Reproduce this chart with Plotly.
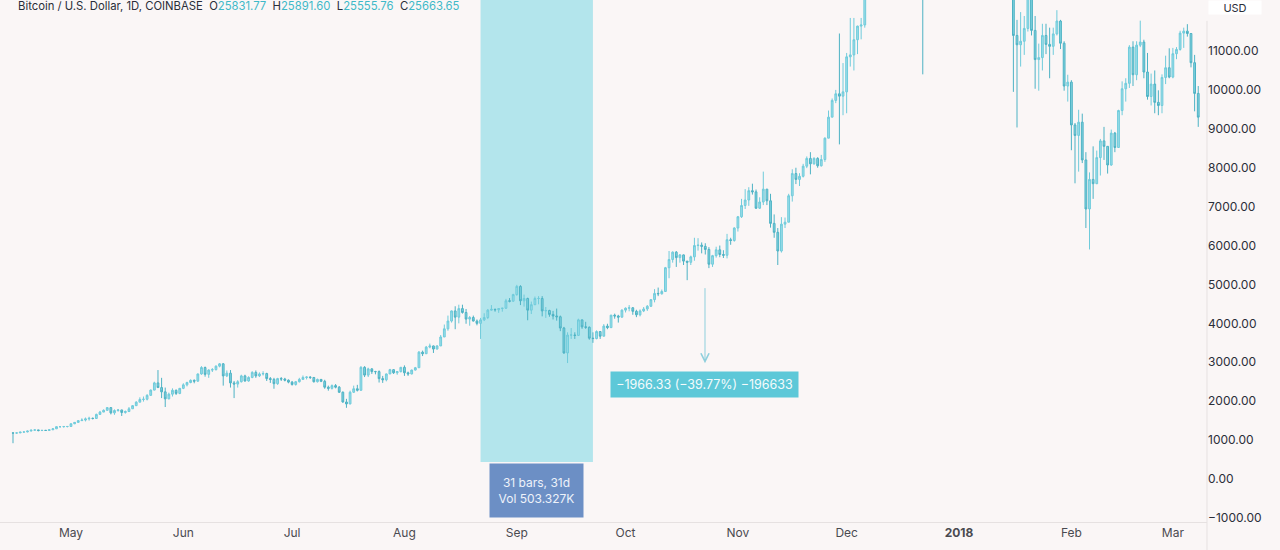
import pandas as pd
import plotly.graph_objects as go

# ---------------- data ----------------
START_DATE = "2017-04-15"
FIRST_OPEN = 1185

close_apr = [1180, 1185, 1205, 1210, 1232, 1255, 1262, 1245, 1250, 1248, 1265, 1290, 1345, 1345, 1350, 1350]
high_apr = [1195, 1195, 1210, 1215, 1240, 1265, 1270, 1265, 1260, 1260, 1270, 1300, 1350, 1360, 1355, 1355]
low_apr = [920, 1165, 1180, 1195, 1200, 1230, 1245, 1225, 1235, 1235, 1245, 1260, 1290, 1320, 1320, 1325]

close_may = [1420, 1455, 1500, 1515, 1545, 1560, 1555, 1660, 1720, 1765, 1835, 1700, 1760, 1775, 1710, 1735,
             1805, 1885, 1975, 2045, 2050, 2150, 2285, 2470, 2350, 2240, 2060, 2180, 2280, 2200, 2330]
high_may = [1430, 1460, 1510, 1560, 1580, 1600, 1580, 1680, 1750, 1790, 1850, 1840, 1790, 1800, 1780, 1760,
            1850, 1900, 2000, 2100, 2120, 2180, 2300, 2500, 2800, 2600, 2350, 2220, 2330, 2300, 2340]
low_may = [1345, 1410, 1450, 1490, 1480, 1500, 1530, 1550, 1650, 1720, 1760, 1660, 1650, 1730, 1620, 1680,
           1720, 1800, 1880, 1980, 1990, 2020, 2140, 2280, 2340, 2080, 1850, 2050, 2120, 2160, 2180]

close_jun = [2420, 2480, 2535, 2515, 2700, 2865, 2690, 2800, 2810, 2900, 2960, 2650, 2720, 2470, 2440,
             2500, 2650, 2520, 2610, 2740, 2650, 2700, 2710, 2580, 2560, 2450, 2580, 2570, 2540, 2490]
high_jun = [2460, 2500, 2560, 2560, 2710, 2900, 2890, 2820, 2850, 2920, 2980, 2980, 2790, 2800, 2520,
            2540, 2680, 2680, 2640, 2770, 2790, 2740, 2770, 2730, 2620, 2600, 2600, 2620, 2600, 2560]
low_jun = [2310, 2380, 2460, 2460, 2500, 2680, 2630, 2600, 2750, 2790, 2870, 2400, 2620, 2350, 2080,
           2350, 2480, 2500, 2500, 2590, 2600, 2620, 2660, 2520, 2470, 2320, 2420, 2520, 2510, 2460]

close_jul = [2430, 2500, 2560, 2610, 2620, 2610, 2500, 2560, 2510, 2360, 2330, 2400, 2360, 2230, 1980, 1930,
             2230, 2320, 2280, 2870, 2670, 2830, 2760, 2760, 2580, 2550, 2700, 2810, 2730, 2760, 2870]
high_jul = [2520, 2520, 2600, 2660, 2640, 2640, 2620, 2580, 2570, 2550, 2400, 2430, 2440, 2390, 2250, 2060,
            2270, 2400, 2420, 2900, 2900, 2860, 2850, 2780, 2790, 2650, 2710, 2830, 2820, 2770, 2880]
low_jul = [2400, 2400, 2480, 2560, 2560, 2570, 2480, 2480, 2490, 2320, 2270, 2300, 2330, 2210, 1960, 1830,
           1920, 2210, 2250, 2270, 2620, 2620, 2700, 2690, 2480, 2470, 2510, 2700, 2700, 2680, 2740]

close_aug = [2730, 2700, 2800, 2860, 3260, 3220, 3390, 3420, 3340, 3420, 3650, 3860, 4060, 4320, 4160, 4380,
             4280, 4110, 4150, 4060, 4000, 4090, 4150, 4340, 4360, 4350, 4380, 4390, 4580, 4570, 4740]
high_aug = [2920, 2760, 2810, 2880, 3290, 3300, 3420, 3480, 3430, 3440, 3700, 3970, 4200, 4330, 4440, 4480,
            4480, 4370, 4190, 4200, 4100, 4140, 4260, 4370, 4470, 4380, 4390, 4400, 4630, 4650, 4760]
low_aug = [2650, 2650, 2690, 2790, 2860, 3160, 3220, 3360, 3240, 3330, 3420, 3650, 3810, 4020, 3850, 4000,
           4250, 3990, 3940, 4050, 3950, 3600, 4060, 4110, 4330, 4300, 4270, 4300, 4370, 4540, 4560]

close_sep = [4950, 4580, 4640, 4340, 4480, 4640, 4640, 4320, 4330, 4230, 4190, 4170, 3880, 3240, 3700,
             3700, 3690, 4090, 3910, 3900, 3620, 3610, 3790, 3670, 3930, 3890, 4210, 4190, 4160, 4340]
high_sep = [4990, 4980, 4740, 4660, 4560, 4690, 4700, 4700, 4420, 4350, 4320, 4380, 4200, 3910, 3770,
            3880, 3770, 4120, 4090, 4040, 3920, 3770, 3820, 3790, 3980, 3990, 4220, 4250, 4220, 4360]
low_sep = [4710, 4470, 4430, 4080, 4240, 4470, 4490, 4180, 4140, 4170, 4100, 4070, 3800, 3220, 2980,
           3600, 3600, 3690, 3860, 3860, 3580, 3500, 3590, 3600, 3680, 3850, 3890, 4120, 4020, 4150]

close_oct = [4390, 4400, 4310, 4220, 4320, 4370, 4440, 4610, 4770, 4760, 4820, 5430, 5640, 5830, 5690, 5760,
             5600, 5570, 5710, 6000, 6010, 5980, 5900, 5520, 5740, 5890, 5770, 5750, 6150, 6130, 6450]
high_oct = [4410, 4470, 4420, 4350, 4360, 4420, 4470, 4620, 4880, 4920, 4870, 5450, 5860, 5850, 5860, 5780,
            5770, 5600, 5740, 6200, 6190, 6080, 6060, 5960, 5760, 5970, 6000, 5880, 6300, 6200, 6470]
low_oct = [4280, 4310, 4220, 4160, 4180, 4290, 4320, 4420, 4540, 4700, 4740, 4810, 5160, 5560, 5450, 5560,
           5500, 5110, 5500, 5610, 5870, 5800, 5770, 5420, 5450, 5690, 5700, 5680, 5670, 6020, 6100]

close_nov = [6740, 7030, 7170, 7410, 7380, 6960, 7120, 7450, 7150, 6570, 6340, 5860, 6550, 6600, 7280,
             7850, 7700, 7780, 8040, 8240, 8100, 8240, 8050, 8210, 8760, 9300, 9730, 9900, 9840, 9950]
high_nov = [6760, 7200, 7450, 7500, 7590, 7440, 7240, 7900, 7450, 7330, 6800, 6450, 6730, 6720, 7330,
            7960, 8000, 7860, 8100, 8290, 8400, 8270, 8270, 8330, 8780, 9470, 9780, 10000, 11450, 10690]
low_nov = [6360, 6710, 6940, 7020, 7310, 6940, 6940, 7040, 7040, 6460, 6200, 5500, 5820, 6450, 6600,
           7130, 7580, 7530, 7750, 7990, 7830, 8080, 8000, 8030, 8150, 8760, 9350, 9660, 8600, 9350]

close_dec = [10850, 10900, 11290, 11640, 11670, 13750, 16850, 16000, 14900, 15060, 16730, 17290, 16480, 16400,
             17640, 19500, 19140, 18990, 17600, 16460, 15600, 13900, 14640, 13820, 13900, 15800, 15400, 14400,
             14660, 12850, 14150]
high_dec = [10950, 11850, 11850, 11650, 11850, 13850, 16900, 17300, 16300, 15800, 17400, 17560, 17350, 16950,
            18000, 19700, 19890, 19290, 19000, 17900, 17400, 15800, 15700, 14870, 14450, 16000, 16500, 16000,
            15120, 14690, 14220]
low_dec = [9400, 10600, 10500, 10920, 11300, 11600, 13700, 14100, 12500, 13010, 14700, 15000, 15200, 15900,
           16300, 17150, 18000, 17850, 17000, 15560, 14900, 10400, 13300, 12500, 12850, 13820, 14800, 13900,
           14000, 12500, 12650]

close_jan = [13440, 14750, 15150, 15170, 17150, 17180, 16150, 14900, 14400, 14900, 13250, 13800, 14190, 13600,
             13580, 11400, 11160, 11250, 11580, 12780, 11530, 10780, 10830, 11400, 11170, 11120, 11440, 11770,
             11200, 10100, 10200]
high_jan = [14220, 15300, 15500, 15750, 17170, 17250, 17180, 16300, 15400, 14950, 14950, 14100, 14480, 14350,
            14400, 13620, 11800, 12000, 11900, 12860, 12800, 11900, 11190, 11700, 11700, 11600, 11600, 12050,
            11800, 11250, 10390]
low_jan = [12800, 12900, 14600, 14600, 15100, 16200, 15800, 14560, 14000, 13200, 12750, 12700, 13550, 13350,
           13300, 9950, 9035, 10600, 10900, 11500, 11400, 10030, 9980, 10500, 10920, 10300, 10900, 11400,
           11050, 9980, 9700]

close_feb = [9100, 8830, 9170, 8200, 6940, 7700, 7590, 8260, 8690, 8550, 8070, 8890, 8520, 9470,
             10030, 10170, 11100, 10390, 11150, 11230, 10460, 9830, 10150, 9680, 9600, 10320, 10570, 10330]
high_feb = [10250, 9150, 9490, 9390, 8400, 7880, 8550, 8440, 8740, 9050, 8550, 8980, 8920, 9490,
            10220, 10300, 11150, 11250, 11250, 11780, 11290, 10950, 10420, 10500, 9990, 10400, 10880, 11070]
low_feb = [8450, 7600, 7900, 8120, 6450, 5900, 7200, 7580, 7800, 8200, 7850, 8050, 8400, 8510,
           9350, 9700, 10050, 10100, 10250, 11100, 10300, 9750, 9600, 9400, 9350, 9400, 10150, 10300]

close_mar = [10930, 11040, 11460, 11510, 11450, 10700, 9910, 9300]
high_mar = [11080, 11100, 11520, 11600, 11690, 11460, 10900, 10100]
low_mar = [10300, 10790, 11010, 11080, 11370, 10580, 9450, 9050]

# axis / annotation content
MONTH_TICKS = ["2017-05-01", "2017-06-01", "2017-07-01", "2017-08-01", "2017-09-01", "2017-10-01",
               "2017-11-01", "2017-12-01", "2018-01-01", "2018-02-01", "2018-03-01"]
MONTH_LABELS = ["May", "Jun", "Jul", "Aug", "Sep", "Oct", "Nov", "Dec", "<b>2018</b>", "Feb", "Mar"]
PRICE_TICKS = [-1000, 0, 1000, 2000, 3000, 4000, 5000, 6000, 7000, 8000, 9000, 10000, 11000]

HEADER_TITLE = "Bitcoin / U.S. Dollar, 1D, COINBASE"
HEADER_KEYS = ["O", "H", "L", "C"]
HEADER_VALUES = [25831.77, 25891.60, 25555.76, 25663.65]

RANGE_START = "2017-08-22"
RANGE_END = "2017-09-22"
RANGE_BARS = 31
RANGE_VOL = "503.327K"

MEASURE_FROM = 4944.0
MEASURE_TO = 2977.67
MEASURE_TEXT = "\u22121966.33 (\u221239.77%) \u2212196633"

# ---------------- build ----------------
closes = (close_apr + close_may + close_jun + close_jul + close_aug + close_sep + close_oct + close_nov +
          close_dec + close_jan + close_feb + close_mar)
highs = (high_apr + high_may + high_jun + high_jul + high_aug + high_sep + high_oct + high_nov +
         high_dec + high_jan + high_feb + high_mar)
lows = (low_apr + low_may + low_jun + low_jul + low_aug + low_sep + low_oct + low_nov +
        low_dec + low_jan + low_feb + low_mar)
dates = pd.date_range(START_DATE, periods=len(closes), freq="D")
# 24/7 market: each daily bar opens at the previous bar's close
opens = [FIRST_OPEN] + closes[:-1]
highs = [max(h, o, c) for h, o, c in zip(highs, opens, closes)]
lows = [min(l, o, c) for l, o, c in zip(lows, opens, closes)]

BG = "#faf6f6"
FONT = "Inter, Roboto, 'Noto Sans', sans-serif"
TEAL = "#3fb9c8"

fig = go.Figure()
fig.add_trace(go.Candlestick(
    x=dates, open=opens, high=highs, low=lows, close=closes,
    increasing=dict(line=dict(color="#6fcbdb", width=1), fillcolor="#9adde8"),
    decreasing=dict(line=dict(color="#4db2c4", width=1), fillcolor="#80d2df"),
    whiskerwidth=0, showlegend=False, hoverinfo="skip",
))

Y_MIN, Y_MAX = -1105, 12311
X_MIN, X_MAX = "2017-04-11 10:00", "2018-03-10 10:00"

fig.add_shape(type="rect", xref="x", yref="y", x0=RANGE_START, x1=RANGE_END, y0=437, y1=Y_MAX,
              fillcolor="#b3e5ec", line=dict(width=0), layer="below")

mid = pd.Timestamp(RANGE_START) + (pd.Timestamp(RANGE_END) - pd.Timestamp(RANGE_START)) / 2
fig.add_annotation(x=mid, y=-283, xref="x", yref="y",
                   text=f"{RANGE_BARS} bars, {RANGE_BARS}d<br>Vol {RANGE_VOL}", showarrow=False,
                   font=dict(family=FONT, size=12, color="#eef2fa"), bgcolor="#6c8fc5",
                   width=91, height=51, align="center", valign="middle")

ARROW_X = "2017-10-22 22:00"
fig.add_annotation(x=ARROW_X, y=MEASURE_TO, ax=ARROW_X, ay=MEASURE_FROM, xref="x", yref="y",
                   axref="x", ayref="y", text="", showarrow=True, arrowhead=5, arrowsize=1.6,
                   arrowwidth=1, arrowcolor="#8fcfdc")
fig.add_annotation(x=ARROW_X, y=2429, xref="x", yref="y", text=MEASURE_TEXT, showarrow=False,
                   font=dict(family=FONT, size=12.5, color="#f4fbfc"), bgcolor="#5dc8d8",
                   width=185, height=23, align="center", valign="middle")

header = HEADER_TITLE + "&nbsp;&nbsp;" + "&nbsp;&nbsp;".join(
    f"{k}<span style='color:{TEAL}'>{v:.2f}</span>" for k, v in zip(HEADER_KEYS, HEADER_VALUES))
fig.add_annotation(x=0.0133, y=1, xref="paper", yref="paper", xanchor="left", yanchor="middle",
                   yshift=-6, text=header, showarrow=False,
                   font=dict(family=FONT, size=11.3, color="#2a2e39"))

fig.add_annotation(x=1.0232, y=1, xref="paper", yref="paper", xanchor="center", yanchor="middle",
                   yshift=-7, text="USD", showarrow=False, bgcolor="#ffffff", width=52, height=13,
                   borderpad=0, font=dict(family=FONT, size=11, color="#2a2e39"))

fig.add_shape(type="line", xref="paper", yref="paper", x0=1, x1=1, y0=-0.06, y1=0.96,
              line=dict(color="#e6e1e1", width=1))

fig.update_layout(
    width=1280, height=550,
    margin=dict(l=0, r=73, t=0, b=28),
    paper_bgcolor=BG, plot_bgcolor=BG,
    font=dict(family=FONT, size=12, color="#2a2e39"),
    xaxis=dict(type="date", range=[X_MIN, X_MAX], tickvals=MONTH_TICKS, ticktext=MONTH_LABELS,
               showgrid=False, zeroline=False, showline=True, linecolor="#e6e1e1", ticks="",
               rangeslider=dict(visible=False), tickfont=dict(size=12, color="#4a4a50")),
    yaxis=dict(side="right", range=[Y_MIN, Y_MAX], tickvals=PRICE_TICKS, tickformat=".2f",
               showgrid=False, zeroline=False, showline=False, ticks="",
               tickfont=dict(size=12, color="#2a2e39")),
    showlegend=False,
)

fig.write_html("out.html", config={"displayModeBar": False},
               post_script="document.body.style.margin='0';document.body.style.overflow='hidden';")
